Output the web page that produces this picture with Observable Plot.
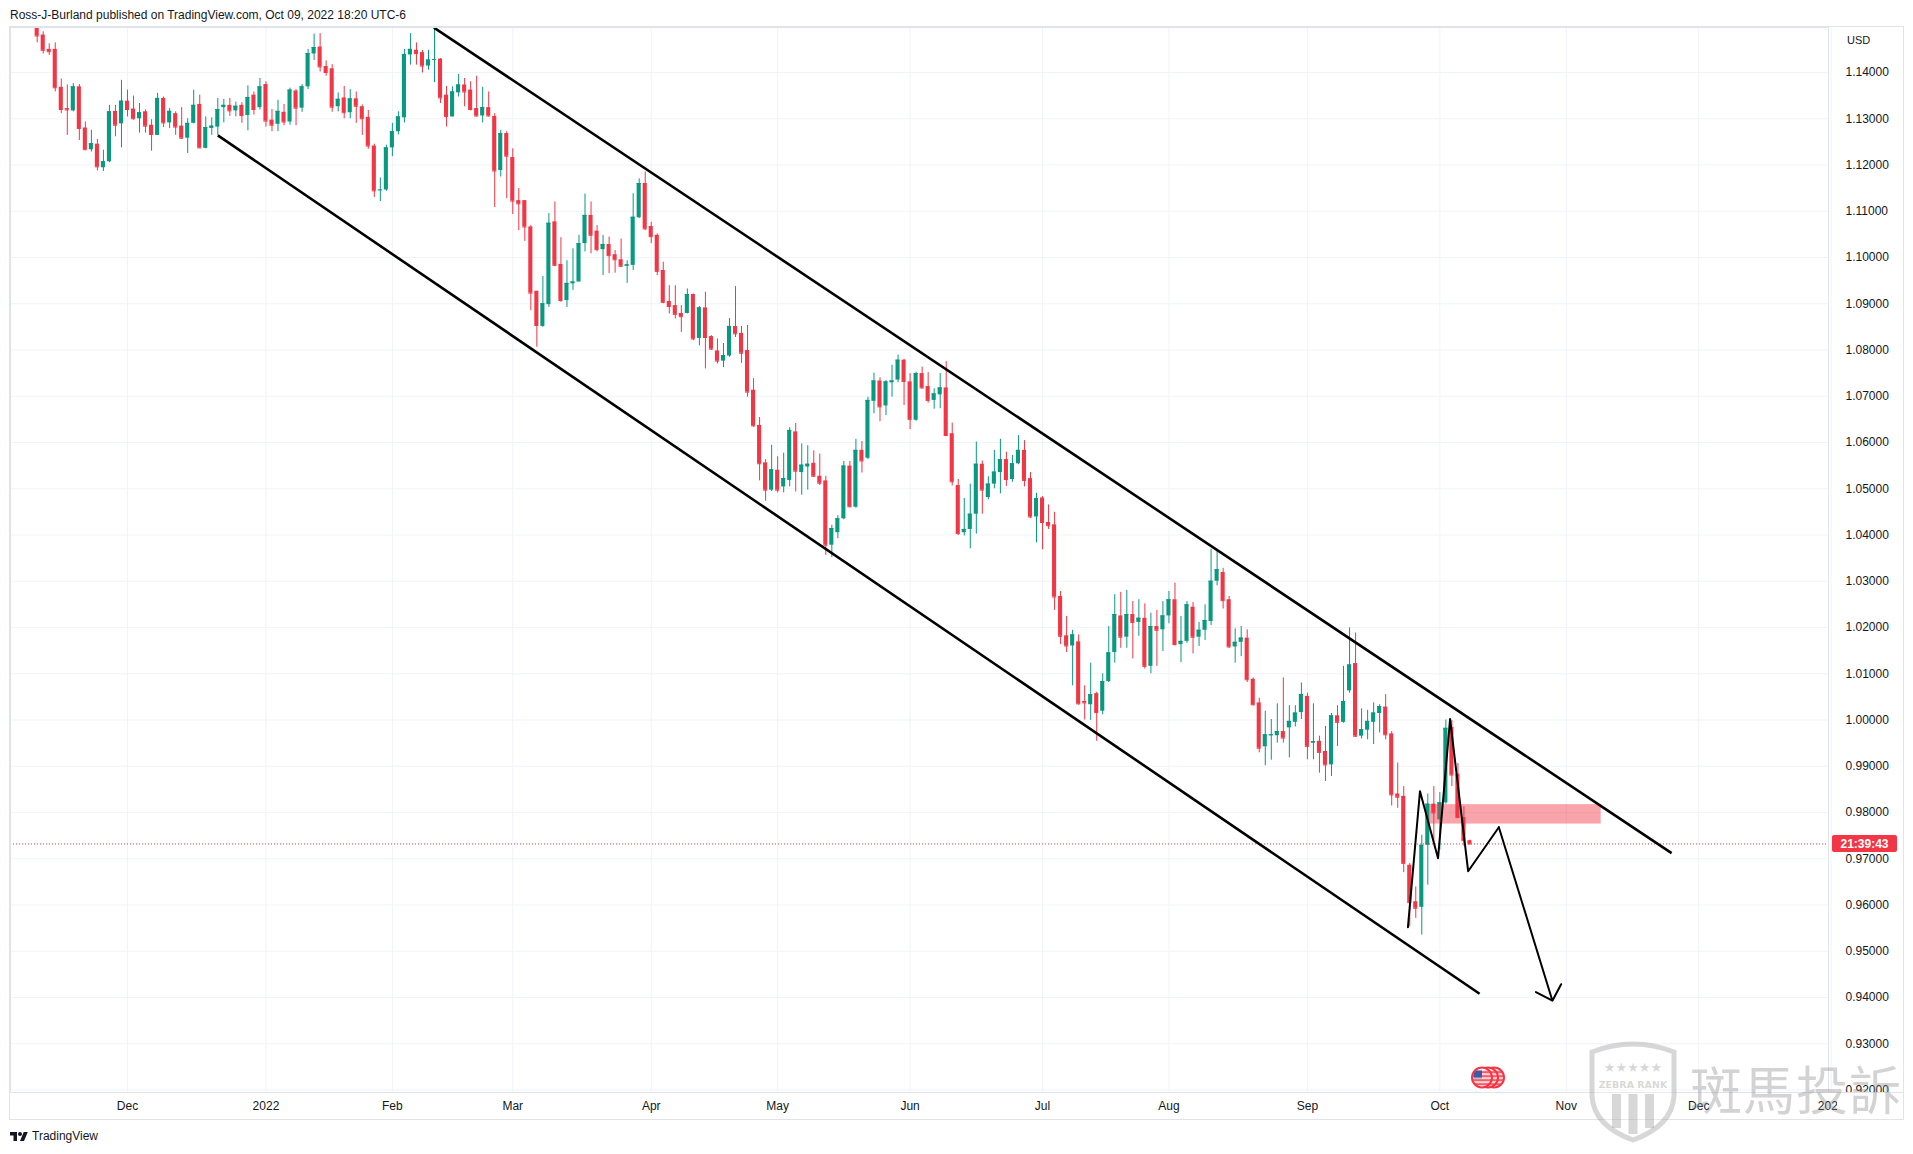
<!DOCTYPE html>
<html><head><meta charset="utf-8">
<script src="https://cdn.jsdelivr.net/npm/d3@7"></script>
<script src="https://cdn.jsdelivr.net/npm/@observablehq/plot@0.6"></script>
<style>
body{margin:0;background:#fff;font-family:"Liberation Sans",Arial,sans-serif;color:#131722;}
#page{position:relative;width:1913px;height:1154px;overflow:hidden;background:#fff;}
.abs{position:absolute;}
</style></head><body><div id="page">
<div class="abs" style="left:10px;top:8px;font-size:12px;white-space:nowrap;">Ross-J-Burland published on TradingView.com, Oct 09, 2022 18:20 UTC-6</div>
<div class="abs" style="left:9px;top:26px;width:1895px;height:1094px;border:1px solid #e0e3eb;box-sizing:border-box;"></div>
<div class="abs" id="chart" style="left:10px;top:27px;"></div>
<div class="abs" style="left:1828px;top:1092px;width:75px;height:1px;background:#e0e3eb;"></div>
<div class="abs" style="left:1837px;top:1093px;width:65px;height:25px;background:#fff;"></div>
<div class="abs" style="left:1847px;top:34px;font-size:11px;">USD</div>
<svg class="abs" style="left:1586px;top:1038px" width="94" height="106" viewBox="0 0 94 106">
  <path d="M6 14 Q47 -2 88 14 L88 58 Q86 88 47 102 Q8 88 6 58 Z" fill="rgba(255,255,255,0.25)" stroke="rgba(140,140,140,0.35)" stroke-width="5"/>
  <g fill="rgba(140,140,140,0.35)">
    <text x="47" y="34" font-size="13" text-anchor="middle" font-family="DejaVu Sans">★★★★★</text>
    <text x="47" y="50" font-size="9.5" font-weight="bold" text-anchor="middle" font-family="DejaVu Sans">ZEBRA RANK</text>
    <rect x="26" y="56" width="9" height="34"/>
    <rect x="42.5" y="56" width="9" height="40"/>
    <rect x="59" y="56" width="9" height="34"/>
  </g>
</svg>
<div class="abs" style="left:1690px;top:1062px;font-family:'Noto Sans CJK TC';font-size:52px;line-height:1;color:rgba(140,140,140,0.38);white-space:nowrap;letter-spacing:1px;">斑馬投訴</div>
<div class="abs" style="left:10px;top:1129px;font-size:12px;display:flex;align-items:center;gap:4px;">
  <svg width="18" height="12" viewBox="0 0 36 24"><path d="M14 22H7V11H0V4h14v18z" fill="#131722"/><circle cx="20" cy="8" r="4" fill="#131722"/><path d="M28 22h-8l7.5-18h8L28 22z" fill="#131722"/></svg>
  <span>TradingView</span>
</div>
<svg width="0" height="0" style="position:absolute">
  <defs>
    <pattern id="usflag" patternUnits="objectBoundingBox" patternContentUnits="objectBoundingBox" width="1" height="1">
      <rect x="0" y="0" width="1" height="1" fill="#fff"/>
      <rect x="0" y="0.18" width="1" height="0.1" fill="#f23645"/>
      <rect x="0" y="0.38" width="1" height="0.1" fill="#f23645"/>
      <rect x="0" y="0.58" width="1" height="0.1" fill="#f23645"/>
      <rect x="0" y="0.78" width="1" height="0.1" fill="#f23645"/>
      <rect x="0.08" y="0.14" width="0.42" height="0.38" fill="#3b5ba5"/>
    </pattern>
  </defs>
</svg>
</div>
<script>
// EUR/USD daily candles, first bar = 2021-11-10, one bar per weekday
const open = [
1.1590,1.1481,1.1450,1.1450,1.1368, 1.1322,1.1317,1.1369,1.1280,1.1233, 1.1245,1.1194,1.1207,1.1316,1.1289,
1.1338,1.1321,1.1300,1.1315,1.1286, 1.1264,1.1344,1.1291,1.1311,1.1284, 1.1258,1.1290,1.1331,1.1236,1.1279,
1.1282,1.1324,1.1329,1.1317,1.1329, 1.1307,1.1351,1.1324,1.1374,1.1297, 1.1288,1.1314,1.1293,1.1360,1.1323,
1.1369,1.1440,1.1455,1.1413,1.1408, 1.1326,1.1345,1.1313,1.1343,1.1326, 1.1303,1.1241,1.1145,1.1146,1.1237,
1.1272,1.1302,1.1438,1.1448,1.1443, 1.1414,1.1427,1.1429,1.1351,1.1304, 1.1356,1.1373,1.1362,1.1322,1.1306,
1.1324,1.1305,1.1188,1.1268,1.1216, 1.1123,1.1123,1.1066,1.0927,1.0851, 1.0898,1.1077,1.0985,1.0907,1.0943,
1.0947,1.1030,1.1091,1.1057,1.1017, 1.1028,1.1006,1.0995,1.0981,1.0983, 1.1086,1.1160,1.1067,1.1048,1.0972,
1.0905,1.0896,1.0879,1.0879,1.0920, 1.0825,1.0891,1.0829,1.0798,1.0776, 1.0787,1.0851,1.0836,1.0799,1.0713,
1.0637,1.0556,1.0497,1.0540,1.0504, 1.0518,1.0623,1.0535,1.0547,1.0555, 1.0527,1.0517,1.0378,1.0405,1.0435,
1.0549,1.0460,1.0583,1.0566,1.0689, 1.0733,1.0679,1.0729,1.0735,1.0778, 1.0731,1.0648,1.0749,1.0721,1.0691,
1.0703,1.0718,1.0619,1.0507,1.0405, 1.0412,1.0445,1.0553,1.0481,1.0510, 1.0535,1.0563,1.0520,1.0554,1.0583,
1.0522,1.0439,1.0480,1.0427,1.0422, 1.0267,1.0182,1.0160,1.0169,1.0040, 1.0033,1.0057,1.0019,1.0083,1.0146,
1.0225,1.0179,1.0228,1.0211,1.0220, 1.0116,1.0202,1.0195,1.0225,1.0260, 1.0163,1.0170,1.0244,1.0179,1.0194,
1.0213,1.0300,1.0319,1.0260,1.0158, 1.0168,1.0177,1.0088,1.0037,0.9942, 0.9966,0.9966,0.9975,0.9983,0.9995,
1.0016,1.0051,0.9950,0.9954,0.9932, 0.9903,1.0009,0.9995,1.0063,1.0122, 0.9965,0.9978,0.9995,1.0014,1.0028,
0.9970,0.9840,0.9835,0.9686,0.9607, 0.9595,0.9729,0.9818,0.9784,0.9821, 0.9984,0.9883,0.9789,0.9739];
const high = [
1.1597,1.1488,1.1462,1.1464,1.1386, 1.1373,1.1376,1.1374,1.1293,1.1275, 1.1255,1.1232,1.1329,1.1329,1.1383,
1.1362,1.1349,1.1333,1.1319,1.1298, 1.1355,1.1347,1.1322,1.1315,1.1324, 1.1300,1.1362,1.1351,1.1304,1.1302,
1.1344,1.1342,1.1344,1.1336,1.1335, 1.1371,1.1358,1.1387,1.1380,1.1320, 1.1340,1.1331,1.1366,1.1363,1.1374,
1.1450,1.1483,1.1484,1.1425,1.1417, 1.1356,1.1370,1.1363,1.1358,1.1330, 1.1318,1.1245,1.1172,1.1243,1.1290,
1.1315,1.1450,1.1484,1.1464,1.1448, 1.1448,1.1497,1.1430,1.1370,1.1369, 1.1396,1.1387,1.1380,1.1392,1.1368,
1.1358,1.1311,1.1275,1.1272,1.1235, 1.1149,1.1123,1.1069,1.0927,1.0959, 1.1095,1.1120,1.1043,1.0993,1.1019,
1.1048,1.1137,1.1120,1.1069,1.1048, 1.1044,1.1015,1.1040,1.0993,1.1138, 1.1170,1.1185,1.1076,1.1051,1.0990,
1.0939,1.0939,1.0896,1.0932,1.0921, 1.0894,1.0925,1.0831,1.0824,1.0814, 1.0868,1.0937,1.0851,1.0853,1.0738,
1.0654,1.0563,1.0594,1.0569,1.0577, 1.0632,1.0641,1.0597,1.0593,1.0582, 1.0575,1.0527,1.0421,1.0442,1.0559,
1.0559,1.0607,1.0602,1.0698,1.0750, 1.0740,1.0734,1.0767,1.0789,1.0780, 1.0749,1.0752,1.0763,1.0751,1.0716,
1.0749,1.0775,1.0642,1.0520,1.0479, 1.0510,1.0601,1.0560,1.0526,1.0583, 1.0607,1.0579,1.0572,1.0615,1.0604,
1.0535,1.0490,1.0483,1.0465,1.0449, 1.0278,1.0224,1.0194,1.0184,1.0074, 1.0123,1.0060,1.0100,1.0202,1.0271,
1.0276,1.0280,1.0256,1.0260,1.0251, 1.0231,1.0237,1.0256,1.0278,1.0296, 1.0224,1.0256,1.0254,1.0211,1.0249,
1.0369,1.0368,1.0328,1.0267,1.0197, 1.0202,1.0195,1.0091,1.0047,1.0019, 1.0001,1.0035,1.0091,1.0031,1.0031,
1.0080,1.0058,1.0035,0.9965,0.9986, 1.0014,1.0031,1.0116,1.0199,1.0188, 1.0024,1.0021,1.0037,1.0033,1.0055,
0.9975,0.9907,0.9856,0.9690,0.9639, 0.9751,0.9840,0.9856,0.9843,1.0000, 0.9999,0.9906,0.9812,0.9740];
const low = [
1.1464,1.1440,1.1437,1.1358,1.1311, 1.1264,1.1315,1.1253,1.1232,1.1228, 1.1187,1.1186,1.1205,1.1261,1.1237,
1.1304,1.1297,1.1269,1.1269,1.1230, 1.1264,1.1281,1.1279,1.1264,1.1255, 1.1225,1.1289,1.1236,1.1235,1.1264,
1.1264,1.1291,1.1305,1.1304,1.1290, 1.1274,1.1308,1.1319,1.1282,1.1272, 1.1272,1.1285,1.1286,1.1285,1.1314,
1.1363,1.1426,1.1401,1.1392,1.1314, 1.1315,1.1300,1.1300,1.1290,1.1264, 1.1234,1.1130,1.1121,1.1143,1.1218,
1.1265,1.1291,1.1416,1.1416,1.1399, 1.1405,1.1378,1.1333,1.1282,1.1304, 1.1347,1.1326,1.1317,1.1304,1.1291,
1.1304,1.1108,1.1174,1.1127,1.1093, 1.1058,1.1035,1.0885,1.0806,1.0849, 1.0892,1.0980,1.0903,1.0892,1.0929,
1.0947,1.1012,1.1008,1.1012,1.0961, 1.0965,1.0966,1.0978,1.0944,1.0972, 1.1084,1.1058,1.1030,1.0961,1.0900,
1.0878,1.0867,1.0838,1.0878,1.0820, 1.0809,1.0759,1.0799,1.0770,1.0762, 1.0784,1.0827,1.0771,1.0698,1.0633,
1.0517,1.0473,1.0494,1.0491,1.0491, 1.0504,1.0493,1.0486,1.0497,1.0525, 1.0507,1.0356,1.0351,1.0392,1.0433,
1.0459,1.0458,1.0534,1.0563,1.0662, 1.0645,1.0658,1.0698,1.0729,1.0680, 1.0628,1.0646,1.0716,1.0685,1.0672,
1.0673,1.0613,1.0506,1.0399,1.0398, 1.0370,1.0402,1.0445,1.0476,1.0500, 1.0489,1.0505,1.0514,1.0552,1.0504,
1.0436,1.0383,1.0368,1.0412,1.0237, 1.0163,1.0146,1.0074,1.0032,1.0000, 0.9999,0.9954,1.0011,1.0081,1.0123,
1.0155,1.0155,1.0132,1.0181,1.0110, 1.0100,1.0116,1.0148,1.0208,1.0160, 1.0124,1.0166,1.0143,1.0159,1.0172,
1.0204,1.0290,1.0240,1.0155,1.0123, 1.0137,1.0081,1.0030,0.9929,0.9901, 0.9913,0.9950,0.9950,0.9918,0.9985,
1.0001,0.9914,0.9914,0.9885,0.9867, 0.9878,0.9943,0.9993,1.0058,0.9962, 0.9959,0.9957,0.9947,0.9972,0.9957,
0.9814,0.9809,0.9670,0.9553,0.9571, 0.9535,0.9643,0.9735,0.9719,0.9818, 0.9856,0.9787,0.9727,0.9730];
const close = [
1.1479,1.1448,1.1445,1.1367,1.1320, 1.1319,1.1369,1.1279,1.1233,1.1246, 1.1196,1.1207,1.1315,1.1286,1.1338,
1.1320,1.1300,1.1313,1.1284,1.1266, 1.1344,1.1291,1.1316,1.1282,1.1258, 1.1290,1.1329,1.1237,1.1281,1.1284,
1.1320,1.1329,1.1317,1.1327,1.1307, 1.1346,1.1320,1.1369,1.1295,1.1286, 1.1316,1.1293,1.1362,1.1323,1.1369,
1.1441,1.1454,1.1412,1.1400,1.1325, 1.1342,1.1313,1.1343,1.1327,1.1300, 1.1241,1.1144,1.1146,1.1237,1.1272,
1.1304,1.1439,1.1450,1.1441,1.1414, 1.1427,1.1428,1.1345,1.1305,1.1358, 1.1373,1.1358,1.1320,1.1306,1.1324,
1.1306,1.1187,1.1268,1.1219,1.1122, 1.1116,1.1066,1.0923,1.0853,1.0900, 1.1074,1.0983,1.0907,1.0944,1.0947,
1.1030,1.1091,1.1048,1.1017,1.1028, 1.1004,1.0995,1.0981,1.0984,1.1087, 1.1160,1.1062,1.1045,1.0970,1.0903,
1.0894,1.0877,1.0872,1.0920,1.0824, 1.0891,1.0827,1.0802,1.0776,1.0788, 1.0851,1.0835,1.0793,1.0709,1.0636,
1.0554,1.0497,1.0541,1.0497,1.0522, 1.0626,1.0538,1.0551,1.0553,1.0527, 1.0512,1.0378,1.0414,1.0435,1.0549,
1.0461,1.0583,1.0560,1.0691,1.0733, 1.0677,1.0731,1.0733,1.0778,1.0732, 1.0650,1.0749,1.0718,1.0691,1.0705,
1.0718,1.0615,1.0515,1.0403,1.0412, 1.0445,1.0553,1.0497,1.0510,1.0536, 1.0563,1.0520,1.0554,1.0583,1.0518,
1.0439,1.0479,1.0427,1.0420,1.0266, 1.0181,1.0160,1.0184,1.0035,1.0037, 1.0055,1.0016,1.0083,1.0145,1.0228,
1.0179,1.0228,1.0211,1.0220,1.0116, 1.0202,1.0194,1.0225,1.0260,1.0163, 1.0170,1.0249,1.0179,1.0194,1.0215,
1.0300,1.0325,1.0258,1.0158,1.0168, 1.0177,1.0087,1.0033,0.9939,0.9968, 0.9968,0.9975,0.9961,0.9997,1.0015,
1.0055,0.9943,0.9953,0.9930,0.9903, 1.0009,0.9995,1.0040,1.0119,0.9965, 0.9979,0.9997,1.0015,1.0029,0.9968,
0.9838,0.9833,0.9690,0.9605,0.9593, 0.9729,0.9818,0.9799,0.9821,0.9982, 0.9881,0.9789,0.9739,0.9732];

// time axis: bar index of first trading day of each month, and labels
const monthTickBars = [15, 38, 59, 79, 102, 123, 145, 167, 188, 211, 233, 254, 276, 298];
const monthTickLabels = ["Dec","2022","Feb","Mar","Apr","May","Jun","Jul","Aug","Sep","Oct","Nov","Dec","2023"];
// price axis ticks
const priceTicks = [0.92,0.93,0.94,0.95,0.96,0.97,0.98,0.99,1.00,1.01,1.02,1.03,1.04,1.05,1.06,1.07,1.08,1.09,1.10,1.11,1.12,1.13,1.14];

// drawings (bar index, price)
const channelX1 = [65.9, 30.0], channelY1 = [1.1497, 1.1264];
const channelX2 = [271.5, 239.6], channelY2 = [0.9712, 0.9408];
const zigBar   = [227.7, 229.7, 232.7, 234.7, 237.7, 242.8, 251.7];
const zigPrice = [0.9552, 0.9846, 0.9701, 1.0002, 0.9673, 0.9768, 0.9393];
const zoneBar = [231.3, 259.8], zonePrice = [0.9775, 0.9817];
const eventBars = [242, 241, 240];
const countdown = "21:39:43";

const GREEN = "#089981", RED = "#f23645";
const bars = open.map((o, k) => ({k, o, h: high[k], l: low[k], c: close[k]}));
const up = bars.filter(d => d.c >= d.o), dn = bars.filter(d => d.c < d.o);
const hw = 0.34;
const labelByBar = new Map(monthTickBars.map((b, i) => [b, monthTickLabels[i]]));
const lastClose = close[close.length - 1];

const W = 1893, H = 1092, MR = 75, MB = 27;
const chart = Plot.plot({
  width: W, height: H,
  marginTop: 0, marginBottom: MB, marginLeft: 0, marginRight: MR,
  style: {fontFamily: '"Liberation Sans", Arial, sans-serif', fontSize: "12px", color: "#131722", background: "transparent"},
  x: {type: "linear", domain: [-4.435, 297.56], label: null},
  y: {type: "linear", domain: [0.919459, 1.14973], label: null},
  marks: [
    Plot.gridX(monthTickBars, {stroke: "#f0f3fa", strokeOpacity: 1}),
    Plot.gridY(priceTicks, {stroke: "#f0f3fa", strokeOpacity: 1}),
    Plot.axisX(monthTickBars, {tickFormat: d => labelByBar.get(d), tickSize: 0, tickPadding: 9, fontSize: 12, label: null}),
    Plot.axisY(priceTicks, {anchor: "right", tickFormat: d3.format(".5f"), tickSize: 0, tickPadding: 17, fontSize: 12, label: null}),
    Plot.ruleX(up, {x: "k", y1: "l", y2: "h", stroke: GREEN, strokeWidth: 1, clip: true}),
    Plot.ruleX(dn, {x: "k", y1: "l", y2: "h", stroke: RED, strokeWidth: 1, clip: true}),
    Plot.rect(up, {x1: d => d.k - hw, x2: d => d.k + hw, y1: "o", y2: "c", fill: GREEN, clip: true}),
    Plot.rect(dn, {x1: d => d.k - hw, x2: d => d.k + hw, y1: "o", y2: "c", fill: RED, clip: true}),
    Plot.ruleY(up, {y: "c", x1: d => d.k - hw, x2: d => d.k + hw, stroke: GREEN, clip: true}),
    Plot.ruleY(dn, {y: "c", x1: d => d.k - hw, x2: d => d.k + hw, stroke: RED, clip: true}),
    Plot.ruleY([lastClose], {stroke: RED, strokeWidth: 1, strokeDasharray: "1,2"}),
    Plot.rect([0], {x1: zoneBar[0], x2: zoneBar[1], y1: zonePrice[0], y2: zonePrice[1], fill: RED, fillOpacity: 0.45}),
    Plot.link(channelX1, {x1: channelX1, y1: channelY1, x2: channelX2, y2: channelY2, stroke: "#000", strokeWidth: 2.6}),
    Plot.line(zigBar.slice(0, -1), {x: zigBar.slice(0, -1), y: zigPrice.slice(0, -1), stroke: "#000", strokeWidth: 2, curve: "linear"}),
    Plot.arrow([0], {x1: zigBar[5], y1: zigPrice[5], x2: zigBar[6], y2: zigPrice[6], stroke: "#000", strokeWidth: 2, headLength: 14, headAngle: 90}),
    Plot.dot(eventBars, {x: d => d, frameAnchor: "bottom", dy: -15, r: 10, fill: "url(#usflag)", stroke: RED, strokeWidth: 2}),
    Plot.frame({stroke: "#e0e3eb"})
  ]
});
document.getElementById("chart").appendChild(chart);

// price label box on the right axis
const svg = d3.select(chart.tagName.toLowerCase() === "svg" ? chart : chart.querySelector("svg"));
const py = chart.scale("y").apply(lastClose);
const bx = W - MR + 4;
svg.append("rect").attr("x", bx).attr("y", py - 8.5).attr("width", 65).attr("height", 17).attr("rx", 2).attr("fill", RED);
svg.append("text").attr("x", bx + 32.5).attr("y", py).attr("dy", "0.35em").attr("text-anchor", "middle")
  .attr("fill", "#fff").attr("font-size", 12).attr("font-weight", "bold").text(countdown);
</script>
</body></html>
